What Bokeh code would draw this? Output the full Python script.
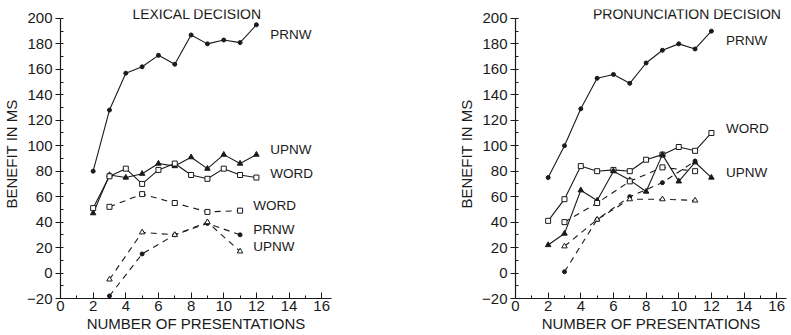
from bokeh.plotting import figure
from bokeh.layouts import row
from bokeh.models import SingleIntervalTicker, Label
from bokeh.embed import file_html
from bokeh.resources import INLINE

# Number of presentations at which each condition was measured
pres_all = [2, 3, 4, 5, 6, 7, 8, 9, 10, 11, 12]
pres_odd = [3, 5, 7, 9, 11]

# Lexical decision: benefit in ms
lex_prnw = [80, 128, 157, 162, 171, 164, 187, 180, 183, 181, 195]
lex_upnw = [47, 77, 75, 78, 86, 84, 91, 82, 93, 86, 93]
lex_word = [51, 76, 82, 70, 81, 86, 77, 74, 82, 77, 75]
lex_word_d = [52, 62, 55, 48, 49]
lex_prnw_d = [-18, 15, 30, 39, 30]
lex_upnw_d = [-5, 32, 30, 40, 17]

# Pronunciation decision: benefit in ms
pro_prnw = [75, 100, 129, 153, 156, 149, 165, 175, 180, 176, 190]
pro_word = [41, 58, 84, 80, 81, 80, 89, 93, 99, 96, 110]
pro_upnw = [22, 31, 65, 57, 80, 73, 64, 93, 72, 87, 75]
pro_word_d = [40, 55, 72, 83, 80]
pro_prnw_d = [1, 42, 60, 71, 88]
pro_upnw_d = [21, 42, 58, 58, 57]

INK = "#1a1a1a"
FONT = "Liberation Sans"
DASH = "6 5"


def make_panel(title, left_border, width, title_x, title_size):
    # the y range runs a little past 200 so the title sits inside the frame;
    # the axis itself stops at 200
    p = figure(width=width, height=335, x_range=(0, 16.6), y_range=(-20, 207),
               min_border_left=left_border, min_border_right=width - left_border - 271,
               min_border_top=9, min_border_bottom=37,
               output_backend="svg", toolbar_location=None)
    p.outline_line_color = None
    p.grid.grid_line_color = None
    p.background_fill_color = "white"
    p.border_fill_color = "white"

    p.xaxis.ticker = SingleIntervalTicker(interval=2, num_minor_ticks=2)
    p.yaxis.ticker = SingleIntervalTicker(interval=20, num_minor_ticks=2)
    p.yaxis.bounds = (-20, 200)
    for ax in (p.xaxis, p.yaxis):
        ax.axis_line_color = INK
        ax.axis_line_width = 1.2
        ax.major_tick_line_color = INK
        ax.minor_tick_line_color = INK
        ax.major_label_text_font = FONT
        ax.major_label_text_font_size = "15px"
        ax.major_label_text_color = INK
        ax.axis_label_text_font = FONT
        ax.axis_label_text_font_size = "15px"
        ax.axis_label_text_font_style = "normal"
        ax.axis_label_text_color = INK
    p.xaxis.major_tick_in = 6
    p.xaxis.major_tick_out = 0
    p.xaxis.minor_tick_in = 3
    p.xaxis.minor_tick_out = 0
    p.xaxis.major_label_standoff = 2
    p.xaxis.axis_label_standoff = 1
    p.xaxis.axis_label = "NUMBER OF PRESENTATIONS"
    p.yaxis.major_tick_in = 0
    p.yaxis.major_tick_out = 5
    p.yaxis.minor_tick_in = 3
    p.yaxis.minor_tick_out = 0
    p.yaxis.major_label_standoff = 3
    p.yaxis.axis_label_standoff = 4
    p.yaxis.axis_label = "BENEFIT IN MS"

    p.add_layout(Label(x=title_x, y=203.5, text=title, text_font=FONT,
                       text_font_size=title_size, text_color=INK,
                       text_align="center", text_baseline="middle"))
    return p


def _marker_size(marker):
    return {"circle": 4, "square": 5, "triangle": 5.5}[marker]


def solid(p, ys, marker, fill):
    p.line(pres_all, ys, line_color=INK, line_width=1.1)
    p.scatter(pres_all, ys, marker=marker, size=_marker_size(marker),
              line_color=INK, fill_color=fill, line_width=1)


def dashed(p, ys, marker, fill):
    p.line(pres_odd, ys, line_color=INK, line_width=1.1, line_dash=DASH)
    p.scatter(pres_odd, ys, marker=marker, size=_marker_size(marker),
              line_color=INK, fill_color=fill, line_width=1)


def tag(p, x, y, text):
    p.add_layout(Label(x=x, y=y, text=text, text_font=FONT, text_font_size="13.5px",
                       text_color=INK, text_align="left", text_baseline="middle"))


# Lexical decision panel
p1 = make_panel("LEXICAL DECISION", 60, 395, 8.36, "14px")
solid(p1, lex_prnw, "circle", INK)
solid(p1, lex_upnw, "triangle", INK)
solid(p1, lex_word, "square", "white")
dashed(p1, lex_word_d, "square", "white")
dashed(p1, lex_prnw_d, "circle", INK)
dashed(p1, lex_upnw_d, "triangle", "white")
tag(p1, 12.85, 187.5, "PRNW")
tag(p1, 12.85, 97, "UPNW")
tag(p1, 12.85, 78, "WORD")
tag(p1, 11.8, 53, "WORD")
tag(p1, 11.8, 34, "PRNW")
tag(p1, 11.8, 21, "UPNW")

# Pronunciation decision panel
p2 = make_panel("PRONUNCIATION DECISION", 120, 396, 10.5, "14px")
solid(p2, pro_prnw, "circle", INK)
solid(p2, pro_word, "square", "white")
solid(p2, pro_upnw, "triangle", INK)
dashed(p2, pro_word_d, "square", "white")
dashed(p2, pro_prnw_d, "circle", INK)
dashed(p2, pro_upnw_d, "triangle", "white")
tag(p2, 12.9, 183, "PRNW")
tag(p2, 12.9, 113.6, "WORD")
tag(p2, 12.9, 79, "UPNW")

layout = row(p1, p2)
open("out.html", "w").write(file_html(layout, INLINE))
